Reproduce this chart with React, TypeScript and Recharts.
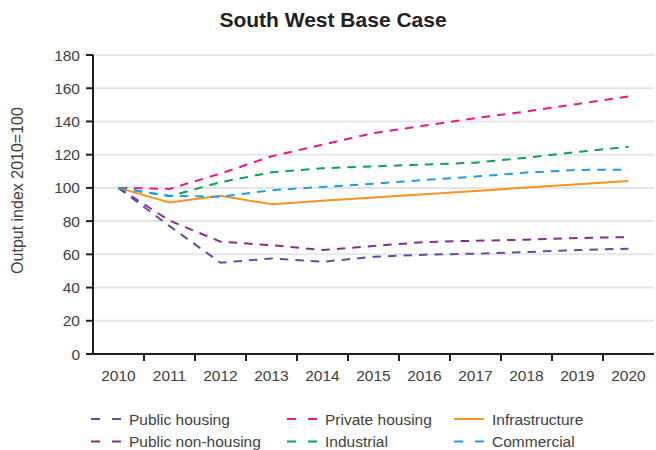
import React from 'react';
import { LineChart, Line, XAxis, YAxis, CartesianGrid, Legend } from 'recharts';

const years = ['2010', '2011', '2012', '2013', '2014', '2015', '2016', '2017', '2018', '2019', '2020'];
const publicHousing = [100, 77, 55, 57.5, 55.5, 58.5, 59.8, 60.4, 61.4, 62.6, 63.4];
const publicNonHousing = [100, 80.3, 67.6, 65.5, 62.6, 65, 67.4, 68.2, 68.8, 69.8, 70.4];
const privateHousing = [100, 99.4, 108.6, 119, 126, 133, 137.5, 142, 146, 150.5, 155];
const industrial = [100, 95, 103.4, 109.4, 111.8, 113, 114, 115.2, 118.2, 121.6, 124.8];
const infrastructure = [100, 91.2, 95.2, 90.2, 92.2, 94.2, 96.2, 98.2, 100.2, 102.2, 104.2];
const commercial = [100, 95.2, 94.6, 98.6, 100.6, 102.5, 104.8, 106.8, 109.2, 110.8, 111];
const yTicks = [0, 20, 40, 60, 80, 100, 120, 140, 160, 180];

const title = 'South West Base Case';
const yLabel = 'Output index 2010=100';

const series = [
  { key: 'publicHousing', name: 'Public housing', values: publicHousing, color: '#5b51a3', dashed: true },
  { key: 'publicNonHousing', name: 'Public non-housing', values: publicNonHousing, color: '#8c2a8a', dashed: true },
  { key: 'privateHousing', name: 'Private housing', values: privateHousing, color: '#ec168c', dashed: true },
  { key: 'industrial', name: 'Industrial', values: industrial, color: '#00a650', dashed: true },
  { key: 'infrastructure', name: 'Infrastructure', values: infrastructure, color: '#f7941d', dashed: false },
  { key: 'commercial', name: 'Commercial', values: commercial, color: '#1a9fe0', dashed: true },
];

const data = years.map((year, i) => {
  const row: Record<string, number | string> = { year };
  series.forEach((s) => {
    row[s.key] = s.values[i];
  });
  return row;
});

const W = 656;
const H = 450;
const FONT = '"Liberation Sans", Arial, Helvetica, sans-serif';
const MARGIN = { top: 55, right: 2, left: 0, bottom: 6 };
const Y_AXIS_W = 93;
const PLOT_W = W - MARGIN.left - MARGIN.right - Y_AXIS_W;
const HALF_BAND = PLOT_W / years.length / 2;
const AXIS_COLOR = '#231f20';
const TEXT_COLOR = '#404040';

const XTick = (props: any) => {
  const { x, y, payload, index } = props;
  return (
    <g>
      <text x={x} y={y + 27} textAnchor="middle" fontSize={15.5} fill={TEXT_COLOR} fontFamily={FONT}>
        {payload.value}
      </text>
      {index > 0 && (
        <line x1={x - HALF_BAND} x2={x - HALF_BAND} y1={y} y2={y + 7} stroke={AXIS_COLOR} strokeWidth={2} />
      )}
    </g>
  );
};

const YLabel = (props: any) => {
  const vb = props.viewBox || { x: 0, y: 0, width: 0, height: 0 };
  const cx = vb.x + 17;
  const cy = vb.y + vb.height / 2 - 14;
  return (
    <text
      x={cx}
      y={cy}
      transform={`rotate(-90 ${cx} ${cy})`}
      textAnchor="middle"
      dominantBaseline="central"
      fontSize={16}
      fill={TEXT_COLOR}
      fontFamily={FONT}
    >
      {yLabel}
    </text>
  );
};

const legendCols = [91, 287, 454];
const legendRows = [19, 41.5];

const renderLegend = () => (
  <svg width={W} height={50} style={{ display: 'block' }}>
    {series.map((s, i) => {
      const col = Math.floor(i / 2);
      const row = i % 2;
      const x0 = legendCols[col];
      const yy = legendRows[row];
      return (
        <g key={s.key}>
          <line
            x1={x0}
            x2={x0 + 30}
            y1={yy}
            y2={yy}
            stroke={s.color}
            strokeWidth={2}
            strokeDasharray={s.dashed ? '9 12' : undefined}
          />
          <text x={x0 + 38} y={yy} dominantBaseline="central" fontSize={15.5} fill={TEXT_COLOR} fontFamily={FONT}>
            {s.name}
          </text>
        </g>
      );
    })}
  </svg>
);

export default function App() {
  return (
    <div style={{ position: 'absolute', left: 0, top: 0, width: W, height: H, background: '#fff', fontFamily: FONT }}>
      <div
        style={{
          position: 'absolute',
          left: 0,
          width: 666,
          top: 7,
          textAlign: 'center',
          fontWeight: 'bold',
          fontSize: 21,
          color: '#231f20',
          lineHeight: '26px',
        }}
      >
        {title}
      </div>
      <LineChart width={W} height={H} data={data} margin={MARGIN}>
        <CartesianGrid vertical={false} stroke="#e6e6e6" strokeWidth={2} />
        <XAxis
          dataKey="year"
          height={40}
          padding={{ left: HALF_BAND, right: HALF_BAND }}
          tickLine={false}
          tickSize={0}
          tickMargin={0}
          axisLine={{ stroke: AXIS_COLOR, strokeWidth: 2 }}
          tick={<XTick />}
          interval={0}
        />
        <YAxis
          width={Y_AXIS_W}
          domain={[0, 180]}
          ticks={yTicks}
          interval={0}
          tickSize={7}
          tickMargin={6}
          axisLine={{ stroke: AXIS_COLOR, strokeWidth: 2 }}
          tickLine={{ stroke: AXIS_COLOR, strokeWidth: 2 }}
          tick={{ fontSize: 15.5, fill: TEXT_COLOR, fontFamily: FONT }}
          label={<YLabel />}
        />
        <Legend content={renderLegend} verticalAlign="bottom" wrapperStyle={{ top: 400, left: 0, width: W, height: 50 }} />
        {series.map((s) => (
          <Line
            key={s.key}
            type="linear"
            dataKey={s.key}
            name={s.name}
            stroke={s.color}
            strokeWidth={2}
            strokeDasharray={s.dashed ? '8.5 7' : undefined}
            dot={false}
            activeDot={false}
            isAnimationActive={false}
          />
        ))}
      </LineChart>
    </div>
  );
}
